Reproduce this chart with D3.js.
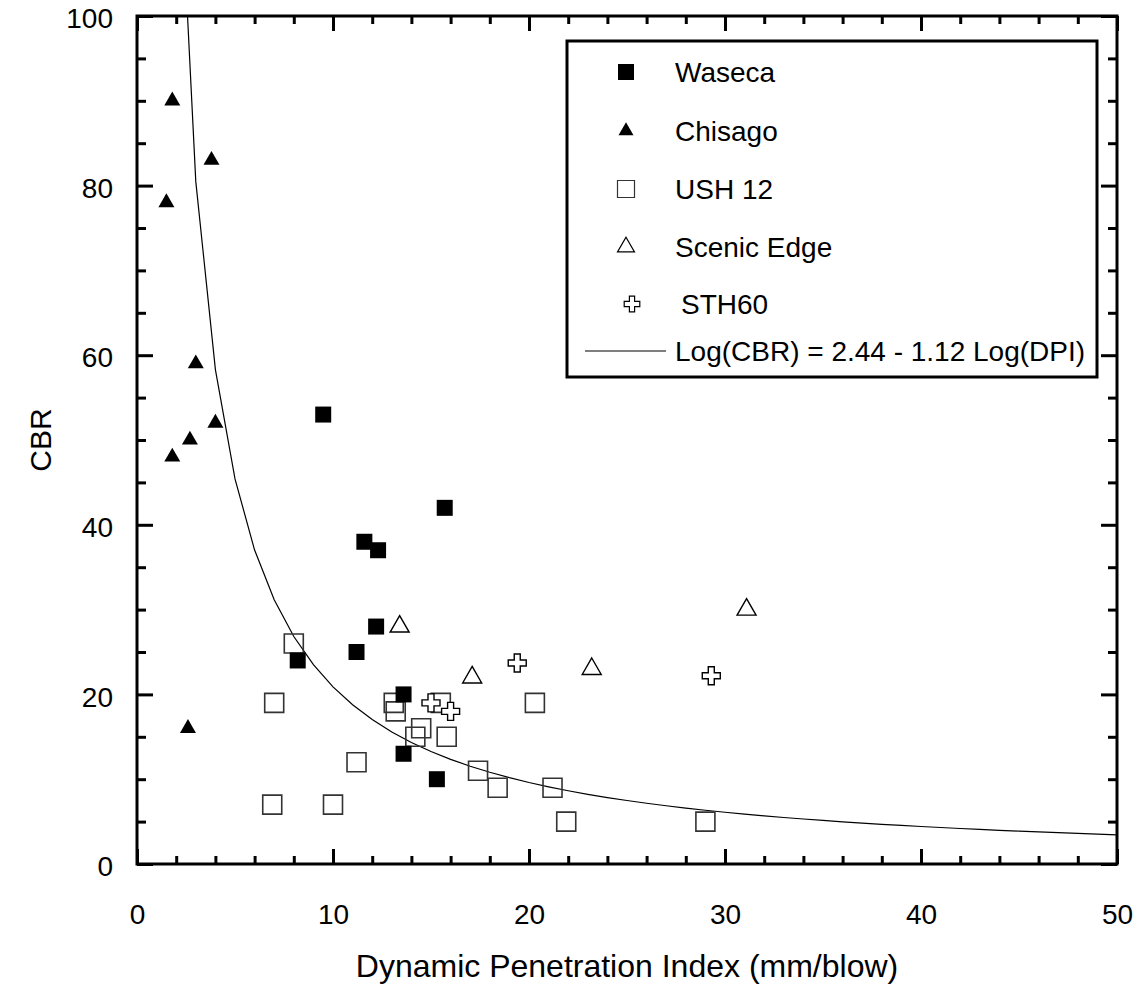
<!DOCTYPE html>
<html>
<head>
<meta charset="utf-8">
<script src="https://cdn.jsdelivr.net/npm/d3@7"></script>
<style>
  body { margin: 0; background: #fff; }
  text { font-family: "Liberation Sans", Arial, sans-serif; fill: #000; }
</style>
</head>
<body>
<svg id="chart" width="1140" height="995"></svg>
<script>
// Data: [DPI (mm/blow), CBR]
var waseca = [[9.5, 53], [11.6, 38], [12.3, 37], [15.7, 42], [12.2, 28], [11.2, 25],
  [8.2, 24], [13.6, 20], [13.6, 13], [15.3, 10]];
var chisago = [[1.8, 90], [3.8, 83], [1.5, 78], [3.0, 59], [4.0, 52], [2.7, 50],
  [1.8, 48], [2.6, 16]];
var ush12 = [[8.0, 26], [7.0, 19], [6.9, 7], [10.0, 7], [11.2, 12], [13.1, 19],
  [13.2, 18], [14.5, 16], [14.2, 15], [15.8, 15], [15.5, 19], [20.3, 19],
  [17.4, 11], [18.4, 9], [21.2, 9], [21.9, 5], [29.0, 5]];
var scenicEdge = [[13.4, 28], [17.1, 22], [23.2, 23], [31.1, 30]];
var sth60 = [[19.4, 23.7], [29.3, 22.2], [15.0, 19], [16.0, 18]];

// regression from the legend: Log(CBR) = 2.44 - 1.12 Log(DPI)
var fitA = 2.44, fitB = 1.12;
var fitDpi = d3.range(1, 51); // curve sampled at whole DPI values

var xTicks = [0, 10, 20, 30, 40, 50];
var yTicks = [0, 20, 40, 60, 80, 100];

var legendNames = ["Waseca", "Chisago", "USH 12", "Scenic Edge", "STH60",
  "Log(CBR) = 2.44 - 1.12 Log(DPI)"];

// plot box in pixels
var pLeft = 137, pRight = 1117, pTop = 16, pBottom = 864;
var svg = d3.select("#chart");

var x = d3.scaleLinear().domain([0, 50]).range([pLeft, pRight]);
var y = d3.scaleLinear().domain([0, 100]).range([pBottom, pTop]);

var minorX = d3.range(0, 51, 2).filter(function(v) { return v % 10 !== 0; });
var minorY = d3.range(0, 101, 5).filter(function(v) { return v % 20 !== 0; });

function styleAxis(g) {
  g.select(".domain").remove();
  g.selectAll("line").attr("stroke", "#000").attr("stroke-width", 3);
  g.selectAll("text").style("font-size", "28px")
    .style("font-family", "Liberation Sans, Arial, sans-serif");
}

// bottom
svg.append("g").attr("transform", "translate(0," + pBottom + ")")
  .call(d3.axisBottom(x).tickValues(xTicks).tickSizeInner(-15).tickSizeOuter(0).tickPadding(40))
  .call(styleAxis);
svg.append("g").attr("transform", "translate(0," + pBottom + ")")
  .call(d3.axisBottom(x).tickValues(minorX).tickSizeInner(-8).tickSizeOuter(0).tickFormat(""))
  .call(styleAxis);
// top
svg.append("g").attr("transform", "translate(0," + pTop + ")")
  .call(d3.axisTop(x).tickValues(xTicks).tickSizeInner(-15).tickSizeOuter(0).tickFormat(""))
  .call(styleAxis);
svg.append("g").attr("transform", "translate(0," + pTop + ")")
  .call(d3.axisTop(x).tickValues(minorX).tickSizeInner(-8).tickSizeOuter(0).tickFormat(""))
  .call(styleAxis);
// left
svg.append("g").attr("transform", "translate(" + pLeft + ",0)")
  .call(d3.axisLeft(y).tickValues(yTicks).tickSizeInner(-16).tickSizeOuter(0).tickPadding(24))
  .call(styleAxis)
  .selectAll("text").attr("dy", "0.42em");
svg.append("g").attr("transform", "translate(" + pLeft + ",0)")
  .call(d3.axisLeft(y).tickValues(minorY).tickSizeInner(-9).tickSizeOuter(0).tickFormat(""))
  .call(styleAxis);
// right
svg.append("g").attr("transform", "translate(" + pRight + ",0)")
  .call(d3.axisRight(y).tickValues(yTicks).tickSizeInner(-16).tickSizeOuter(0).tickFormat(""))
  .call(styleAxis);
svg.append("g").attr("transform", "translate(" + pRight + ",0)")
  .call(d3.axisRight(y).tickValues(minorY).tickSizeInner(-9).tickSizeOuter(0).tickFormat(""))
  .call(styleAxis);

// frame
svg.append("rect")
  .attr("x", pLeft).attr("y", pTop)
  .attr("width", pRight - pLeft).attr("height", pBottom - pTop)
  .attr("fill", "none").attr("stroke", "#000").attr("stroke-width", 3);

// axis titles
svg.append("text")
  .attr("x", (pLeft + pRight) / 2).attr("y", 977)
  .attr("text-anchor", "middle")
  .style("font-size", "32px")
  .text("Dynamic Penetration Index (mm/blow)");
svg.append("text")
  .attr("transform", "translate(51," + (pTop + pBottom) / 2 + ") rotate(-90)")
  .attr("text-anchor", "middle")
  .style("font-size", "30px")
  .text("CBR");

// fit curve, clipped to plot area
svg.append("clipPath").attr("id", "plot-clip")
  .append("rect").attr("x", pLeft).attr("y", pTop)
  .attr("width", pRight - pLeft).attr("height", pBottom - pTop);

var line = d3.line()
  .x(function(d) { return x(d); })
  .y(function(d) { return y(Math.pow(10, fitA - fitB * Math.log10(d))); });

svg.append("path")
  .datum(fitDpi)
  .attr("clip-path", "url(#plot-clip)")
  .attr("d", line)
  .attr("fill", "none")
  .attr("stroke", "#000")
  .attr("stroke-width", 1.2);

// symbols
var sqFilled = d3.symbol().type(d3.symbolSquare).size(16 * 16);
var sqOpen = d3.symbol().type(d3.symbolSquare).size(19 * 19);
var triFilled = d3.symbol().type(d3.symbolTriangle).size(Math.sqrt(3) / 4 * 16 * 16);
var triOpen = d3.symbol().type(d3.symbolTriangle).size(Math.sqrt(3) / 4 * 19 * 19);
var crossOpen = d3.symbol().type(d3.symbolCross).size(180);

function drawPoints(data, sym, fill, stroke, sw) {
  svg.append("g").selectAll("path")
    .data(data)
    .enter()
    .append("path")
    .attr("transform", function(d) { return "translate(" + x(d[0]) + "," + y(d[1]) + ")"; })
    .attr("d", sym)
    .attr("fill", fill)
    .attr("stroke", stroke)
    .attr("stroke-width", sw);
}

drawPoints(ush12, sqOpen, "none", "#333", 1.6);
drawPoints(scenicEdge, triOpen, "none", "#000", 1.4);
drawPoints(waseca, sqFilled, "#000", "none", 0);
drawPoints(chisago, triFilled, "#000", "none", 0);
drawPoints(sth60, crossOpen, "#fff", "#000", 1.4);

// legend
svg.append("rect")
  .attr("x", 567).attr("y", 41).attr("width", 530).attr("height", 336)
  .attr("fill", "#fff").attr("stroke", "#000").attr("stroke-width", 3);

var legendY = [72, 131, 189, 247, 304, 351];
var legendSyms = [
  { sym: d3.symbol().type(d3.symbolSquare).size(16 * 16), fill: "#000", stroke: "none", dx: 626 },
  { sym: d3.symbol().type(d3.symbolTriangle).size(Math.sqrt(3) / 4 * 15 * 15), fill: "#000", stroke: "none", dx: 626 },
  { sym: d3.symbol().type(d3.symbolSquare).size(17 * 17), fill: "none", stroke: "#333", dx: 626 },
  { sym: d3.symbol().type(d3.symbolTriangle).size(Math.sqrt(3) / 4 * 17 * 17), fill: "none", stroke: "#000", dx: 626 },
  { sym: d3.symbol().type(d3.symbolCross).size(135), fill: "#fff", stroke: "#000", dx: 632 }
];

legendSyms.forEach(function(s, i) {
  svg.append("path")
    .attr("transform", "translate(" + s.dx + "," + legendY[i] + ")")
    .attr("d", s.sym)
    .attr("fill", s.fill)
    .attr("stroke", s.stroke)
    .attr("stroke-width", 1.2);
});

svg.append("line")
  .attr("x1", 585).attr("x2", 666)
  .attr("y1", legendY[5]).attr("y2", legendY[5])
  .attr("stroke", "#000").attr("stroke-width", 1.2);

svg.selectAll(".legend-label")
  .data(legendNames)
  .enter()
  .append("text")
  .attr("class", "legend-label")
  .attr("x", function(d, i) { return i === 4 ? 681 : 675; })
  .attr("y", function(d, i) { return legendY[i]; })
  .attr("dy", "0.36em")
  .style("font-size", "28px")
  .text(function(d) { return d; });
</script>
</body>
</html>
